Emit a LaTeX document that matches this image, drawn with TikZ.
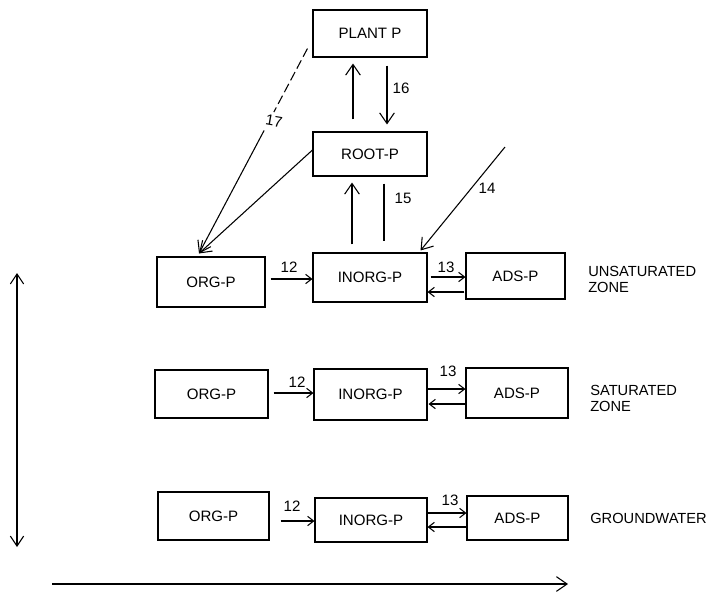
\documentclass[tikz,border=0pt]{standalone}
\usepackage{fontspec}
\setmainfont{Liberation Sans}
\usetikzlibrary{arrows.meta,calc}
\begin{document}
\begin{tikzpicture}[x=0.75pt,y=-0.75pt,
  box/.style={draw,line width=0.8pt,rectangle,inner sep=0pt,font=\fontsize{11.3}{13}\selectfont},
  lbl/.style={inner sep=0pt,font=\fontsize{11.3}{13}\selectfont},
  zone/.style={inner sep=0pt,font=\fontsize{11}{12}\selectfont,align=left,anchor=west},
  conn/.style={line width=0.8pt},
  big/.style={conn,-{Straight Barb[length=8pt,width=11pt,line width=0.8pt]}},
  small/.style={conn,-{Straight Barb[length=4.5pt,width=7pt,line width=0.8pt]}},
  dbl/.style={conn,{Straight Barb[length=7.5pt,width=10pt,line width=0.8pt]}-{Straight Barb[length=7.5pt,width=10pt,line width=0.8pt]}}]
\useasboundingbox (0,0) rectangle (710,597);
% boxes
\node[box,minimum width=85.5pt,minimum height=35.25pt] (plant) at (370,33.5) {PLANT P};
\node[box,minimum width=85.5pt,minimum height=33pt] (root) at (370,154) {ROOT-P};
\node[box,minimum width=81pt,minimum height=37.5pt] (org1) at (211,282) {ORG-P};
\node[box,minimum width=85.5pt,minimum height=36.75pt] (inorg1) at (370,277.5) {INORG-P};
\node[box,minimum width=74.25pt,minimum height=34.5pt] (ads1) at (515.5,276) {ADS-P};
\node[box,minimum width=84.75pt,minimum height=36pt] (org2) at (211.5,394) {ORG-P};
\node[box,minimum width=84.75pt,minimum height=38.25pt] (inorg2) at (370.5,394.5) {INORG-P};
\node[box,minimum width=76.5pt,minimum height=37.5pt] (ads2) at (517,393) {ADS-P};
\node[box,minimum width=83.25pt,minimum height=36pt] (org3) at (213.5,516) {ORG-P};
\node[box,minimum width=84pt,minimum height=33pt] (inorg3) at (371,520) {INORG-P};
\node[box,minimum width=75.75pt,minimum height=33pt] (ads3) at (517.5,518) {ADS-P};
% zone labels
\node[zone] (z1) at (588,279) {UNSATURATED\\ZONE};
\node[zone] (z2) at (590,398) {SATURATED\\ZONE};
\node[zone] (z3) at (590,518) {GROUNDWATER};
% plant <-> root
\draw[big] ($(root.north)+(-17,-12)$) -- ($(plant.south)+(-17,6)$);
\draw[big] ($(plant.south)+(17,8)$) -- ($(root.north)+(17,-7)$);
\node[lbl] (l16) at (401,88) {16};
% inorg <-> root
\draw[big] ($(inorg1.north)+(-18,-8)$) -- ($(root.south)+(-18,6)$);
\draw[conn] ($(root.south)+(14,7)$) -- ($(inorg1.north)+(14,-11)$);
\node[lbl] (l15) at (403,198) {15};
% 14
\coordinate (c14) at (505,147);
\draw[big] (c14) -- ($(inorg1.north east)+(-7,-2)$);
\node[lbl] (l14) at (487,188) {14};
% root -> org1
\draw[big] ($(root.west)+(0,-4)$) -- ($(org1.north)+(-12,-3)$);
% 17 plant -> org1
\coordinate (p17) at ($(plant.south west)+(-5,-9)$);
\coordinate (q17) at ($(org1.north)+(-12,-3)$);
\draw[conn,dash pattern=on 7pt off 3pt] (p17) -- ($(p17)!0.31!(q17)$);
\draw[big] ($(p17)!0.40!(q17)$) -- (q17);
\node[lbl,rotate=-10] (l17) at (274,121) {17};
% row 1
\draw[small] ($(org1.east)+(5,-3)$) -- ($(inorg1.west)+(0,1.5)$);
\node[lbl] (a12) at (289,267) {12};
\draw[small] ($(inorg1.east)+(3,-0.5)$) -- ($(ads1.west)+(0,1)$);
\node[lbl] (a13) at (446,267) {13};
\draw[small] ($(ads1.west)+(-1,16)$) -- ($(inorg1.east)+(0,14.5)$);
% row 2
\draw[small] ($(org2.east)+(5,-1)$) -- ($(inorg2.west)+(0,-1.5)$);
\node[lbl] (b12) at (297,382) {12};
\draw[small] ($(inorg2.east)+(0,-5.5)$) -- ($(ads2.west)+(0,-4)$);
\node[lbl] (b13) at (448,371) {13};
\draw[small] ($(ads2.west)+(0,11)$) -- ($(inorg2.east)+(1,9.5)$);
% row 3
\draw[small] ($(org3.east)+(11,5)$) -- ($(inorg3.west)+(0,1)$);
\node[lbl] (c12) at (292,506) {12};
\draw[small] ($(inorg3.east)+(0,-7)$) -- ($(ads3.west)+(0,-5)$);
\node[lbl] (c13) at (450,500) {13};
\draw[small] ($(ads3.west)+(0,9)$) -- ($(inorg3.east)+(0,7)$);
% axes
\coordinate (vt) at (17,273);
\coordinate (vb) at (17,547);
\draw[dbl] (vb) -- (vt);
\coordinate (hl) at (52,584);
\coordinate (hr) at (568,584);
\draw[big] (hl) -- (hr);
\end{tikzpicture}
\end{document}
